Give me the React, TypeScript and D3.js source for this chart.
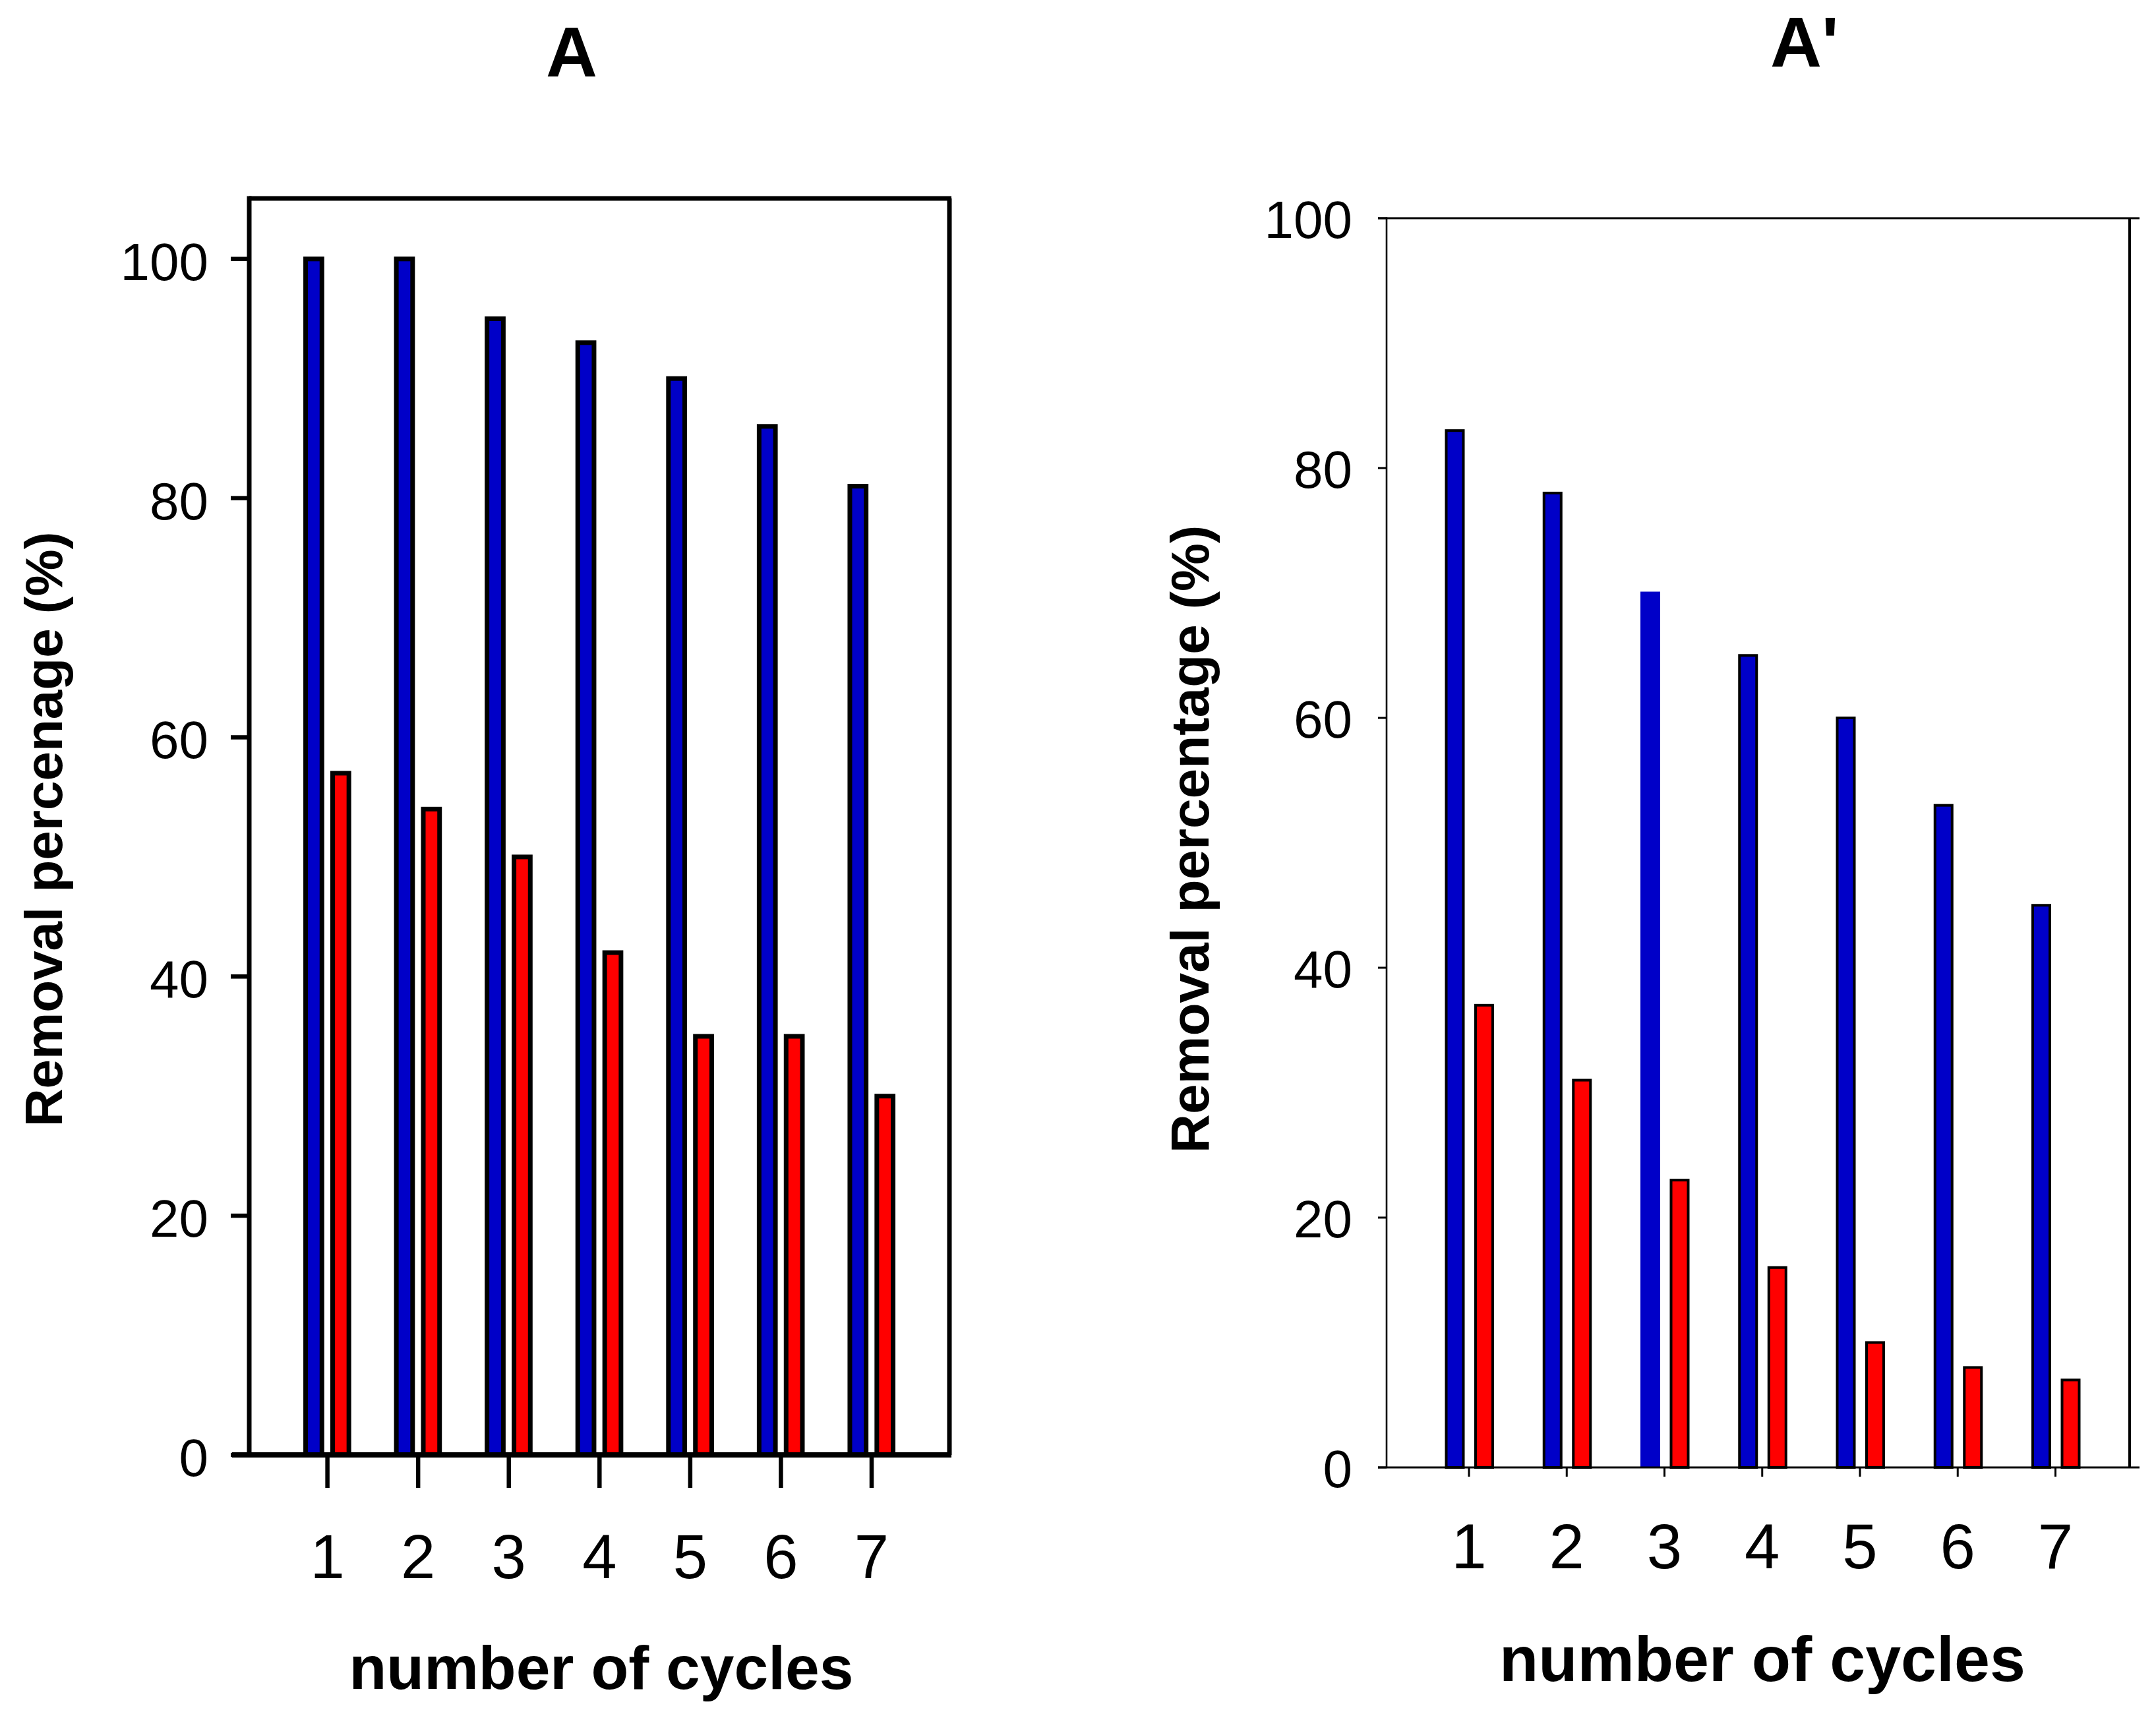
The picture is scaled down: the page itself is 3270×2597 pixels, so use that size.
import * as d3 from 'd3'

const cycles = [1, 2, 3, 4, 5, 6, 7]
const yTicks = [0, 20, 40, 60, 80, 100]

// panel A
const blueA = [100, 100, 95, 93, 90, 86, 81]
const redA = [57, 54, 50, 42, 35, 35, 30]
// panel A'
const blueA2 = [83, 78, 70, 65, 60, 53, 45]
const redA2 = [37, 31, 23, 16, 10, 8, 7]

const BLUE = '#0000c8'
const RED = '#ff0000'
const FONT = 'Arial, "Liberation Sans", sans-serif'

interface PanelProps {
  title: string
  titleX: number
  titleY: number
  titleAnchor: 'middle' | 'start'
  blue: number[]
  red: number[]
  yLabel: string
  // layout
  left: number
  right: number
  top: number
  bottom: number
  yTop: number
  yMaxFrame: number
  xFirst: number
  xLast: number
  axisLeft: number
  axisRight: number
  frameW: number
  leftW: number
  rightW: number
  topW: number
  axisW: number
  tickW: number
  yTickLen: number
  xTickLen: number
  barW: number
  barStroke: number
  blueOff: number
  redOff: number
  yLabelX: number
  yLabelY: number
  yLabelSize: number
  yTickX: number
  yTickSize: number
  yTickDy: number
  xTickY: number
  xTickSize: number
  xLabelX: number
  xLabelY: number
  xLabelSize: number
  noOutline?: number[]
}

function Panel(p: PanelProps) {
  const x = d3.scaleLinear().domain([1, 7]).range([p.xFirst, p.xLast])
  const y = d3.scaleLinear().domain([0, 100]).range([p.bottom, p.yTop])
  const frameTop = y(p.yMaxFrame)

  return (
    <g>
      <text x={p.titleX} y={p.titleY} textAnchor={p.titleAnchor} fontFamily={FONT} fontWeight="bold" fontSize={108}>{p.title}</text>

      {/* bars */}
      {cycles.map((c, i) => (
        <g key={c}>
          {p.noOutline && p.noOutline.includes(i) ? (
            <rect x={x(c) + p.blueOff - (p.barW + p.barStroke) / 2} y={y(p.blue[i]) - p.barStroke / 2}
              width={p.barW + p.barStroke} height={p.bottom - y(p.blue[i]) + p.barStroke / 2} fill={BLUE} />
          ) : (
            <rect x={x(c) + p.blueOff - p.barW / 2} y={y(p.blue[i])} width={p.barW} height={p.bottom - y(p.blue[i])}
              fill={BLUE} stroke="#000" strokeWidth={p.barStroke} />
          )}
          <rect x={x(c) + p.redOff - p.barW / 2} y={y(p.red[i])} width={p.barW} height={p.bottom - y(p.red[i])}
            fill={RED} stroke="#000" strokeWidth={p.barStroke} />
        </g>
      ))}

      {/* frame */}
      <line x1={p.left} x2={p.left} y1={frameTop - p.topW / 2} y2={p.bottom} stroke="#000" strokeWidth={p.leftW} />
      <line x1={p.right} x2={p.right} y1={frameTop} y2={p.bottom} stroke="#000" strokeWidth={p.rightW} />
      <line x1={p.left - (p.yMaxFrame === 100 ? p.yTickLen : 0)} x2={p.axisRight} y1={frameTop} y2={frameTop} stroke="#000" strokeWidth={p.topW} />
      <line x1={p.axisLeft} x2={p.axisRight} y1={p.bottom} y2={p.bottom} stroke="#000" strokeWidth={p.axisW} />

      {/* y ticks */}
      {yTicks.map(t => (
        <g key={t}>
          <line x1={p.left - p.yTickLen} x2={p.left} y1={y(t)} y2={y(t)} stroke="#000" strokeWidth={p.tickW} />
          <text x={p.yTickX} y={y(t)} dy={`${p.yTickDy}em`} textAnchor="end" fontFamily={FONT} fontSize={p.yTickSize}>{t}</text>
        </g>
      ))}

      {/* x ticks */}
      {cycles.map(c => (
        <g key={c}>
          <line x1={x(c)} x2={x(c)} y1={p.bottom} y2={p.bottom + p.xTickLen} stroke="#000" strokeWidth={p.tickW} />
          <text x={x(c)} y={p.xTickY} textAnchor="middle" fontFamily={FONT} fontSize={p.xTickSize}>{c}</text>
        </g>
      ))}

      <text transform={`translate(${p.yLabelX},${p.yLabelY}) rotate(-90)`} textAnchor="middle" fontFamily={FONT}
        fontWeight="bold" fontSize={p.yLabelSize}>{p.yLabel}</text>
      <text x={p.xLabelX} y={p.xLabelY} textAnchor="middle" fontFamily={FONT} fontWeight="bold" fontSize={p.xLabelSize}>number of cycles</text>
    </g>
  )
}

export default function App() {
  return (
    <svg width={3270} height={2597} style={{ position: 'absolute', left: 0, top: 0, background: '#fff' }}>
      <rect width={3270} height={2597} fill="#fff" />
      <Panel title="A" titleX={867} titleY={116} titleAnchor="middle"
        blue={blueA} red={redA} yLabel="Removal percenage (%)"
        left={378} right={1440} top={301} bottom={2207} yTop={392.8} yMaxFrame={105.06}
        xFirst={496.6} xLast={1322} axisLeft={352} axisRight={1443}
        frameW={7} leftW={7} rightW={7} topW={7} axisW={8} tickW={6.5} yTickLen={28} xTickLen={50}
        barW={24.7} barStroke={7} blueOff={-20.7} redOff={20.2}
        yLabelX={94} yLabelY={1258} yLabelSize={80}
        yTickX={316} yTickSize={80} yTickDy={0.4}
        xTickY={2394} xTickSize={94}
        xLabelX={912} xLabelY={2562} xLabelSize={93} />
      <Panel title="A'" titleX={2685} titleY={101} titleAnchor="start"
        blue={blueA2} red={redA2} yLabel="Removal percentage (%)"
        left={2103} right={3230} top={331} bottom={2226} yTop={331} yMaxFrame={100}
        xFirst={2228} xLast={3117.5} axisLeft={2090} axisRight={3245}
        frameW={3} leftW={2.6} rightW={4} topW={3} axisW={3} tickW={3} yTickLen={13} xTickLen={14}
        barW={26} barStroke={4} blueOff={-21.5} redOff={23}
        yLabelX={1833} yLabelY={1273} yLabelSize={82}
        yTickX={2051} yTickSize={80} yTickDy={0.375}
        xTickY={2379} xTickSize={96}
        xLabelX={2673} xLabelY={2550} xLabelSize={97} noOutline={[2]} />
    </svg>
  )
}
